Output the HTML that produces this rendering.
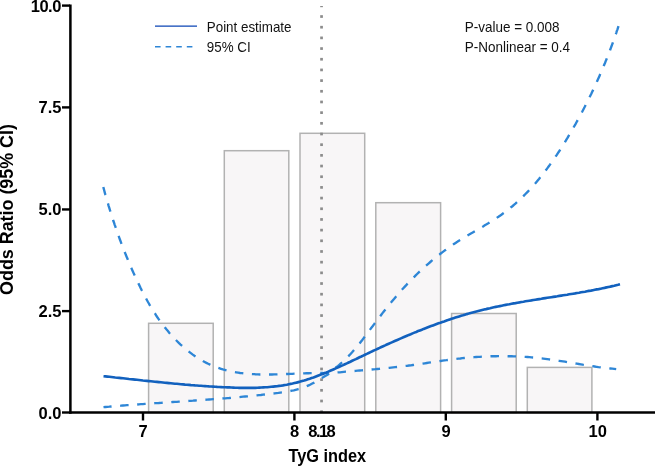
<!DOCTYPE html>
<html><head><meta charset="utf-8"><title>TyG index odds ratio</title>
<style>
html,body{margin:0;padding:0;background:#fff;}
body{width:655px;height:466px;overflow:hidden;}
svg{display:block;}
text{font-family:"Liberation Sans",sans-serif;}
.tk{font-weight:bold;font-size:16.5px;fill:#000;}
.ax{font-weight:bold;font-size:16px;fill:#000;}
.lg{font-size:14.2px;fill:#111;}
</style></head><body>
<svg width="655" height="466" viewBox="0 0 655 466">
<rect width="655" height="466" fill="#fff"/>
<g>
<rect x="148.6" y="323.3" width="64.6" height="89.2" fill="#f8f6f7" stroke="#b2b2b2" stroke-width="1.5"/>
<rect x="224.3" y="150.7" width="64.5" height="261.8" fill="#f8f6f7" stroke="#b2b2b2" stroke-width="1.5"/>
<rect x="300.0" y="133.3" width="64.7" height="279.2" fill="#f8f6f7" stroke="#b2b2b2" stroke-width="1.5"/>
<rect x="375.8" y="202.7" width="64.8" height="209.8" fill="#f8f6f7" stroke="#b2b2b2" stroke-width="1.5"/>
<rect x="451.6" y="313.5" width="64.6" height="99.0" fill="#f8f6f7" stroke="#b2b2b2" stroke-width="1.5"/>
<rect x="527.3" y="367.4" width="64.6" height="45.1" fill="#f8f6f7" stroke="#b2b2b2" stroke-width="1.5"/>
</g>
<g><rect x="320.20" y="6.00" width="2.7" height="1.19" fill="#8c8c8c"/><rect x="320.20" y="15.17" width="2.7" height="2.70" fill="#8c8c8c"/><rect x="320.20" y="25.85" width="2.7" height="2.70" fill="#8c8c8c"/><rect x="320.20" y="36.53" width="2.7" height="2.70" fill="#8c8c8c"/><rect x="320.20" y="47.21" width="2.7" height="2.70" fill="#8c8c8c"/><rect x="320.20" y="57.89" width="2.7" height="2.70" fill="#8c8c8c"/><rect x="320.20" y="68.57" width="2.7" height="2.70" fill="#8c8c8c"/><rect x="320.20" y="79.25" width="2.7" height="2.70" fill="#8c8c8c"/><rect x="320.20" y="89.93" width="2.7" height="2.70" fill="#8c8c8c"/><rect x="320.20" y="100.61" width="2.7" height="2.70" fill="#8c8c8c"/><rect x="320.20" y="111.29" width="2.7" height="2.70" fill="#8c8c8c"/><rect x="320.20" y="121.97" width="2.7" height="2.70" fill="#8c8c8c"/><rect x="320.20" y="132.65" width="2.7" height="2.70" fill="#8c8c8c"/><rect x="320.20" y="143.33" width="2.7" height="2.70" fill="#8c8c8c"/><rect x="320.20" y="154.01" width="2.7" height="2.70" fill="#8c8c8c"/><rect x="320.20" y="164.69" width="2.7" height="2.70" fill="#8c8c8c"/><rect x="320.20" y="175.37" width="2.7" height="2.70" fill="#8c8c8c"/><rect x="320.20" y="186.05" width="2.7" height="2.70" fill="#8c8c8c"/><rect x="320.20" y="196.73" width="2.7" height="2.70" fill="#8c8c8c"/><rect x="320.20" y="207.41" width="2.7" height="2.70" fill="#8c8c8c"/><rect x="320.20" y="218.09" width="2.7" height="2.70" fill="#8c8c8c"/><rect x="320.20" y="228.77" width="2.7" height="2.70" fill="#8c8c8c"/><rect x="320.20" y="239.45" width="2.7" height="2.70" fill="#8c8c8c"/><rect x="320.20" y="250.13" width="2.7" height="2.70" fill="#8c8c8c"/><rect x="320.20" y="260.81" width="2.7" height="2.70" fill="#8c8c8c"/><rect x="320.20" y="271.49" width="2.7" height="2.70" fill="#8c8c8c"/><rect x="320.20" y="282.17" width="2.7" height="2.70" fill="#8c8c8c"/><rect x="320.20" y="292.85" width="2.7" height="2.70" fill="#8c8c8c"/><rect x="320.20" y="303.53" width="2.7" height="2.70" fill="#8c8c8c"/><rect x="320.20" y="314.21" width="2.7" height="2.70" fill="#8c8c8c"/><rect x="320.20" y="324.89" width="2.7" height="2.70" fill="#8c8c8c"/><rect x="320.20" y="335.57" width="2.7" height="2.70" fill="#8c8c8c"/><rect x="320.20" y="346.25" width="2.7" height="2.70" fill="#8c8c8c"/><rect x="320.20" y="356.93" width="2.7" height="2.70" fill="#8c8c8c"/><rect x="320.20" y="367.61" width="2.7" height="2.70" fill="#8c8c8c"/><rect x="320.20" y="378.29" width="2.7" height="2.70" fill="#8c8c8c"/><rect x="320.20" y="388.97" width="2.7" height="2.70" fill="#8c8c8c"/><rect x="320.20" y="399.65" width="2.7" height="2.70" fill="#8c8c8c"/><rect x="320.20" y="410.33" width="2.7" height="2.17" fill="#8c8c8c"/></g>
<path d="M103.3 187.0L103.8 188.9L104.3 190.7L104.8 192.6L105.3 194.5L105.9 196.4L106.4 198.2L106.9 200.1L107.5 202.0L108.1 203.9L108.6 205.8L109.2 207.7L109.8 209.6L110.4 211.5L111.0 213.4L111.6 215.3L112.2 217.2L112.8 219.1L113.4 221.0L114.1 222.9L114.7 224.8L115.4 226.7L116.0 228.6L116.7 230.5L117.3 232.4L118.0 234.3L118.7 236.2L119.4 238.1L120.1 240.0L120.8 241.9L121.5 243.8L122.2 245.7L123.0 247.5L123.7 249.4L124.4 251.3L125.2 253.2L125.9 255.1L126.7 256.9L127.5 258.8L128.2 260.7L129.0 262.5L129.8 264.4L130.6 266.2L131.4 268.1L132.2 269.9L133.0 271.7L133.8 273.6L134.7 275.4L135.5 277.2L136.3 279.0L137.2 280.8L138.0 282.6L138.9 284.4L139.8 286.2L140.6 288.0L141.5 289.8L142.4 291.5L143.3 293.3L144.2 295.0L145.2 296.8L146.1 298.5L147.0 300.2L148.0 302.0L149.0 303.7L149.9 305.4L150.9 307.0L152.0 308.7L153.0 310.4L154.0 312.1L155.1 313.7L156.1 315.3L157.2 317.0L158.3 318.6L159.5 320.2L160.6 321.8L161.8 323.4L162.9 325.0L164.1 326.5L165.4 328.1L166.6 329.6L167.9 331.1L169.2 332.7L170.5 334.2L171.8 335.6L173.2 337.1L174.5 338.6L175.9 340.0L177.4 341.5L178.8 342.9L180.3 344.3L181.8 345.6L183.3 347.0L184.8 348.3L186.4 349.6L188.0 350.9L189.5 352.1L191.2 353.4L192.8 354.6L194.4 355.7L196.1 356.8L197.8 357.9L199.5 359.0L201.2 360.0L202.9 361.0L204.7 362.0L206.4 362.9L208.2 363.8L210.0 364.6L211.8 365.4L213.6 366.2L215.4 366.9L217.3 367.6L219.1 368.2L221.0 368.8L222.9 369.4L224.7 369.9L226.6 370.4L228.5 370.9L230.4 371.3L232.4 371.7L234.3 372.1L236.2 372.4L238.2 372.7L240.1 373.0L242.1 373.2L244.1 373.5L246.0 373.7L248.0 373.8L250.0 374.0L252.0 374.1L254.0 374.2L256.0 374.3L258.0 374.4L260.0 374.5L262.0 374.5L264.0 374.5L266.0 374.5L268.0 374.5L270.1 374.5L272.1 374.5L274.1 374.4L276.1 374.4L278.2 374.3L280.2 374.3L282.2 374.2L284.2 374.1L286.2 374.0L288.3 374.0L290.3 373.9L292.3 373.8L294.3 373.7L296.3 373.6L298.4 373.5L300.4 373.4L302.4 373.4L304.4 373.3L306.4 373.2L308.4 373.2L310.4 373.1L312.3 373.1L314.3 373.0L316.3 373.0L318.3 373.0L320.2 373.0L322.2 373.0L324.1 373.1L326.1 373.1L328.0 373.2L328.0 373.2L329.7 372.1L331.4 370.9L333.0 369.8L334.6 368.6L336.2 367.3L337.8 366.1L339.3 364.8L340.8 363.5L342.3 362.1L343.8 360.8L345.2 359.4L346.6 358.0L348.0 356.6L349.4 355.2L350.8 353.7L352.1 352.3L353.4 350.8L354.7 349.3L356.0 347.8L357.2 346.3L358.5 344.8L359.7 343.3L360.9 341.7L362.1 340.2L363.3 338.6L364.5 337.1L365.7 335.5L366.9 333.9L368.1 332.3L369.2 330.7L370.4 329.1L371.6 327.5L372.8 326.0L374.0 324.4L375.2 322.7L376.4 321.1L377.6 319.5L378.8 317.9L380.1 316.3L381.3 314.7L382.5 313.1L383.8 311.5L385.0 310.0L386.3 308.4L387.6 306.8L388.8 305.2L390.1 303.6L391.4 302.1L392.7 300.5L394.0 299.0L395.3 297.4L396.6 295.9L397.9 294.4L399.2 292.8L400.6 291.3L401.9 289.8L403.3 288.3L404.6 286.9L406.0 285.4L407.3 283.9L408.7 282.5L410.1 281.1L411.5 279.6L412.9 278.2L414.3 276.8L415.7 275.4L417.1 274.0L418.5 272.6L420.0 271.3L421.4 269.9L422.9 268.6L424.3 267.2L425.8 265.9L427.3 264.6L428.8 263.3L430.3 262.0L431.8 260.7L433.3 259.4L434.8 258.2L436.4 256.9L437.9 255.7L439.5 254.5L441.0 253.3L442.6 252.1L444.2 250.9L445.8 249.7L447.4 248.5L449.0 247.4L450.6 246.2L452.3 245.1L453.9 244.0L455.6 242.9L457.3 241.8L458.9 240.7L460.6 239.7L462.3 238.6L464.0 237.6L465.8 236.5L467.5 235.5L469.2 234.5L470.9 233.5L472.7 232.5L474.4 231.4L476.2 230.4L477.9 229.4L479.6 228.4L481.4 227.4L483.1 226.4L484.8 225.3L486.6 224.3L488.3 223.3L490.0 222.2L491.7 221.1L493.4 220.1L495.1 219.0L496.7 217.9L498.4 216.8L500.0 215.7L501.7 214.5L503.3 213.3L504.9 212.2L506.5 211.0L508.0 209.7L509.6 208.5L511.1 207.2L512.7 206.0L514.2 204.7L515.7 203.4L517.2 202.0L518.6 200.7L520.1 199.3L521.5 198.0L522.9 196.6L524.3 195.2L525.7 193.7L527.1 192.3L528.5 190.9L529.9 189.4L531.2 187.9L532.5 186.5L533.9 185.0L535.2 183.5L536.5 181.9L537.7 180.4L539.0 178.9L540.3 177.3L541.5 175.8L542.8 174.2L544.0 172.6L545.2 171.0L546.4 169.5L547.6 167.9L548.8 166.2L550.0 164.6L551.1 163.0L552.3 161.4L553.4 159.7L554.6 158.1L555.7 156.4L556.8 154.8L557.9 153.1L559.0 151.5L560.1 149.8L561.2 148.1L562.2 146.4L563.3 144.7L564.4 143.0L565.4 141.3L566.4 139.6L567.5 137.9L568.5 136.2L569.5 134.5L570.5 132.7L571.5 131.0L572.5 129.3L573.5 127.6L574.5 125.8L575.5 124.1L576.5 122.3L577.4 120.6L578.4 118.8L579.3 117.1L580.3 115.3L581.2 113.6L582.2 111.8L583.1 110.0L584.0 108.2L584.9 106.5L585.8 104.7L586.7 102.9L587.6 101.1L588.5 99.3L589.4 97.6L590.3 95.8L591.2 94.0L592.0 92.2L592.9 90.4L593.7 88.6L594.6 86.8L595.4 84.9L596.3 83.1L597.1 81.3L597.9 79.5L598.7 77.7L599.5 75.9L600.3 74.0L601.1 72.2L601.9 70.4L602.7 68.5L603.5 66.7L604.2 64.8L605.0 63.0L605.7 61.1L606.5 59.3L607.2 57.4L608.0 55.6L608.7 53.7L609.4 51.9L610.1 50.0L610.8 48.1L611.5 46.3L612.2 44.4L612.9 42.5L613.6 40.6L614.2 38.7L614.9 36.9L615.5 35.0L616.2 33.1L616.8 31.2L617.5 29.3L618.1 27.4L618.7 25.5" fill="none" stroke="#2e86d6" stroke-width="2.35" stroke-dasharray="8.5 8.6"/>
<path d="M103.5 407.2L105.4 407.0L107.4 406.8L109.3 406.7L111.3 406.5L113.2 406.3L115.2 406.2L117.2 406.0L119.1 405.9L121.1 405.7L123.0 405.5L125.0 405.4L127.0 405.2L129.0 405.1L130.9 404.9L132.9 404.8L134.9 404.6L136.9 404.5L138.9 404.3L140.9 404.2L142.9 404.1L144.9 403.9L146.8 403.8L148.8 403.6L150.8 403.5L152.8 403.4L154.8 403.2L156.8 403.1L158.8 403.0L160.9 402.8L162.9 402.7L164.9 402.6L166.9 402.4L168.9 402.3L170.9 402.2L172.9 402.0L174.9 401.9L176.9 401.8L178.9 401.6L181.0 401.5L183.0 401.3L185.0 401.2L187.0 401.1L189.0 400.9L191.0 400.8L193.0 400.7L195.0 400.5L197.1 400.4L199.1 400.2L201.1 400.1L203.1 400.0L205.1 399.8L207.1 399.7L209.1 399.5L211.1 399.4L213.1 399.2L215.2 399.1L217.2 398.9L219.2 398.8L221.2 398.6L223.2 398.4L225.2 398.3L227.2 398.1L229.2 398.0L231.2 397.8L233.2 397.6L235.2 397.4L237.2 397.3L239.1 397.1L241.1 396.9L243.1 396.7L245.1 396.5L247.1 396.4L249.1 396.2L251.0 396.0L253.0 395.8L255.0 395.6L257.0 395.4L258.9 395.2L260.9 395.0L262.9 394.7L264.8 394.5L266.8 394.3L268.7 394.1L270.7 393.8L272.6 393.6L274.6 393.4L276.5 393.1L278.4 392.9L280.4 392.6L282.3 392.4L284.2 392.1L286.1 391.8L288.1 391.4L290.0 391.1L291.9 390.7L293.8 390.3L295.6 389.8L297.5 389.3L299.4 388.8L301.3 388.2L303.1 387.6L305.0 386.9L306.8 386.1L308.7 385.3L310.5 384.5L312.3 383.5L314.1 382.6L316.0 381.5L317.7 380.5L319.5 379.4L321.3 378.4L323.1 377.3L324.8 376.2L326.6 375.2L328.3 374.2L330.0 373.2L330.0 373.2L332.0 373.0L333.9 372.8L335.9 372.6L337.9 372.4L339.9 372.3L341.8 372.1L343.8 371.9L345.8 371.7L347.8 371.6L349.7 371.4L351.7 371.2L353.7 371.0L355.7 370.9L357.6 370.7L359.6 370.5L361.6 370.4L363.6 370.2L365.5 370.0L367.5 369.9L369.5 369.7L371.4 369.5L373.4 369.3L375.4 369.2L377.4 369.0L379.3 368.8L381.3 368.6L383.3 368.4L385.3 368.2L387.2 368.0L389.2 367.8L391.2 367.6L393.2 367.4L395.2 367.2L397.1 367.0L399.1 366.8L401.1 366.5L403.1 366.3L405.0 366.0L407.0 365.8L409.0 365.5L411.0 365.3L412.9 365.0L414.9 364.7L416.9 364.4L418.9 364.2L420.8 363.9L422.8 363.6L424.8 363.3L426.8 363.0L428.7 362.7L430.7 362.4L432.7 362.1L434.7 361.9L436.6 361.6L438.6 361.3L440.6 361.0L442.6 360.7L444.5 360.4L446.5 360.2L448.5 359.9L450.5 359.7L452.5 359.4L454.4 359.2L456.4 358.9L458.4 358.7L460.4 358.5L462.3 358.2L464.3 358.0L466.3 357.8L468.3 357.7L470.2 357.5L472.2 357.3L474.2 357.2L476.2 357.0L478.1 356.9L480.1 356.8L482.1 356.6L484.1 356.5L486.0 356.4L488.0 356.4L490.0 356.3L492.0 356.2L493.9 356.2L495.9 356.2L497.9 356.1L499.9 356.1L501.8 356.1L503.8 356.1L505.8 356.1L507.8 356.2L509.7 356.2L511.7 356.2L513.7 356.3L515.7 356.4L517.6 356.5L519.6 356.6L521.6 356.7L523.6 356.8L525.5 356.9L527.5 357.0L529.5 357.2L531.5 357.4L533.4 357.5L535.4 357.7L537.4 357.9L539.4 358.1L541.3 358.4L543.3 358.6L545.3 358.8L547.2 359.1L549.2 359.4L551.2 359.6L553.2 359.9L555.1 360.2L557.1 360.5L559.1 360.8L561.1 361.1L563.0 361.4L565.0 361.7L567.0 362.1L568.9 362.4L570.9 362.7L572.9 363.0L574.8 363.4L576.8 363.7L578.8 364.0L580.8 364.3L582.7 364.7L584.7 365.0L586.7 365.3L588.6 365.6L590.6 365.9L592.6 366.2L594.6 366.5L596.5 366.8L598.5 367.1L600.5 367.3L602.4 367.6L604.4 367.8L606.4 368.1L608.3 368.3L610.3 368.5L612.3 368.7L614.2 368.9L616.2 369.1" fill="none" stroke="#2e86d6" stroke-width="2.35" stroke-dasharray="8.5 8.6" stroke-dashoffset="0.4"/>
<path d="M103.5 376.2L105.5 376.4L107.4 376.6L109.4 376.8L111.3 377.0L113.3 377.2L115.2 377.5L117.2 377.7L119.2 377.9L121.1 378.1L123.1 378.3L125.1 378.5L127.1 378.7L129.0 379.0L131.0 379.2L133.0 379.4L135.0 379.6L137.0 379.8L138.9 380.0L140.9 380.2L142.9 380.5L144.9 380.7L146.9 380.9L148.9 381.1L150.9 381.3L152.9 381.5L154.9 381.7L156.9 381.9L158.9 382.1L160.9 382.3L162.9 382.5L164.9 382.7L166.9 382.9L168.9 383.1L170.9 383.3L172.9 383.5L174.9 383.7L176.9 383.8L178.9 384.0L180.9 384.2L183.0 384.4L185.0 384.6L187.0 384.7L189.0 384.9L191.0 385.1L193.0 385.2L195.0 385.4L197.0 385.5L199.1 385.7L201.1 385.8L203.1 386.0L205.1 386.1L207.1 386.2L209.1 386.4L211.1 386.5L213.2 386.6L215.2 386.7L217.2 386.9L219.2 387.0L221.2 387.1L223.2 387.2L225.3 387.3L227.3 387.4L229.3 387.4L231.3 387.5L233.3 387.6L235.3 387.7L237.3 387.7L239.3 387.8L241.4 387.8L243.4 387.8L245.4 387.8L247.4 387.9L249.4 387.9L251.4 387.8L253.4 387.8L255.4 387.8L257.4 387.7L259.3 387.6L261.3 387.5L263.3 387.4L265.3 387.3L267.3 387.2L269.2 387.0L271.2 386.8L273.2 386.6L275.1 386.4L277.1 386.2L279.1 385.9L281.0 385.7L283.0 385.4L284.9 385.0L286.8 384.7L288.8 384.3L290.7 383.9L292.6 383.5L294.5 383.0L296.5 382.6L298.4 382.1L300.3 381.6L302.2 381.0L304.1 380.5L306.0 379.9L307.8 379.3L309.7 378.7L311.6 378.0L313.5 377.4L315.4 376.7L317.2 376.0L319.1 375.3L320.9 374.6L322.8 373.9L324.7 373.1L326.5 372.4L328.4 371.6L330.2 370.8L332.1 370.0L333.9 369.2L335.7 368.4L337.6 367.6L339.4 366.8L341.3 365.9L343.1 365.1L344.9 364.2L346.8 363.4L348.6 362.5L350.4 361.7L352.2 360.8L354.1 359.9L355.9 359.1L357.7 358.2L359.5 357.3L361.4 356.5L363.2 355.6L365.0 354.7L366.8 353.9L368.7 353.0L370.5 352.1L372.3 351.3L374.1 350.4L375.9 349.6L377.8 348.7L379.6 347.9L381.4 347.0L383.2 346.2L385.1 345.4L386.9 344.5L388.7 343.7L390.6 342.9L392.4 342.1L394.2 341.3L396.0 340.5L397.9 339.7L399.7 338.9L401.5 338.1L403.4 337.3L405.2 336.5L407.0 335.7L408.9 334.9L410.7 334.2L412.6 333.4L414.4 332.6L416.2 331.9L418.1 331.1L419.9 330.4L421.8 329.7L423.6 328.9L425.5 328.2L427.3 327.5L429.2 326.8L431.1 326.1L432.9 325.4L434.8 324.7L436.6 324.0L438.5 323.3L440.4 322.7L442.3 322.0L444.1 321.4L446.0 320.7L447.9 320.1L449.8 319.4L451.6 318.8L453.5 318.2L455.4 317.6L457.3 317.0L459.2 316.4L461.1 315.8L463.0 315.3L464.9 314.7L466.8 314.1L468.7 313.6L470.6 313.0L472.6 312.5L474.5 312.0L476.4 311.5L478.3 311.0L480.3 310.5L482.2 310.0L484.1 309.5L486.1 309.1L488.0 308.6L490.0 308.2L491.9 307.7L493.9 307.3L495.8 306.9L497.8 306.5L499.8 306.1L501.7 305.7L503.7 305.3L505.7 304.9L507.6 304.5L509.6 304.2L511.6 303.8L513.6 303.4L515.5 303.1L517.5 302.7L519.5 302.4L521.5 302.0L523.5 301.7L525.4 301.3L527.4 301.0L529.4 300.7L531.4 300.4L533.4 300.0L535.4 299.7L537.4 299.4L539.4 299.1L541.4 298.8L543.3 298.4L545.3 298.1L547.3 297.8L549.3 297.5L551.3 297.2L553.3 296.9L555.3 296.6L557.3 296.3L559.3 295.9L561.3 295.6L563.2 295.3L565.2 295.0L567.2 294.7L569.2 294.3L571.2 294.0L573.2 293.7L575.1 293.4L577.1 293.0L579.1 292.7L581.1 292.3L583.0 292.0L585.0 291.7L587.0 291.3L588.9 290.9L590.9 290.6L592.9 290.2L594.8 289.8L596.8 289.4L598.7 289.1L600.7 288.7L602.6 288.3L604.6 287.9L606.5 287.4L608.5 287.0L610.4 286.6L612.3 286.1L614.2 285.7L616.2 285.2L618.1 284.8L620.0 284.3" fill="none" stroke="#1261be" stroke-width="2.65"/>
<!-- axes -->
<path d="M70.4 4.4V413.7" stroke="#000" stroke-width="2.5" fill="none"/>
<path d="M69.3 412.5H655" stroke="#000" stroke-width="2.5" fill="none"/>
<g stroke="#000" stroke-width="2.4">
<path d="M62 5.6H70"/><path d="M62 107.4H70"/><path d="M62 209.45H70"/><path d="M62 311.1H70"/><path d="M62 412.5H70"/>
<path d="M143 413V420.5"/><path d="M294.4 413V420.5"/><path d="M445.8 413V420.5"/><path d="M597.4 413V420.5"/>
</g>
<g class="tk" text-anchor="end">
<text x="61" y="11.9" letter-spacing="-0.45">10.0</text>
<text x="61.5" y="113.3">7.5</text>
<text x="61.5" y="215.3">5.0</text>
<text x="61.5" y="316.9">2.5</text>
<text x="61.5" y="418.5">0.0</text>
</g>
<g class="tk" text-anchor="middle">
<text x="143" y="437">7</text>
<text x="294.7" y="437">8</text>
<text x="321.2" y="437" letter-spacing="-1.6">8.18</text>
<text x="446" y="437">9</text>
<text x="597.8" y="437">10</text>
</g>
<text class="ax" style="font-size:18.5px" transform="translate(327.3 462.3) scale(0.883 1)" text-anchor="middle">TyG index</text>
<text class="ax" style="font-size:18.3px" transform="translate(13.4 209.5) rotate(-90) scale(0.978 1)" text-anchor="middle">Odds Ratio (95% CI)</text>
<!-- legend -->
<path d="M155 26.1H197" stroke="#0b45b5" stroke-width="1.45"/>
<path d="M155 46.7H197" stroke="#2e86d6" stroke-width="1.5" stroke-dasharray="5.6 5"/>
<text class="lg" transform="translate(206.8 31.6) scale(0.942 1)">Point estimate</text>
<text class="lg" transform="translate(206.8 51.8) scale(0.942 1)">95% CI</text>
<text class="lg" transform="translate(464.8 32.1) scale(0.95 1)">P-value = 0.008</text>
<text class="lg" transform="translate(464.8 51.8) scale(0.95 1)">P-Nonlinear = 0.4</text>
</svg>
</body></html>
